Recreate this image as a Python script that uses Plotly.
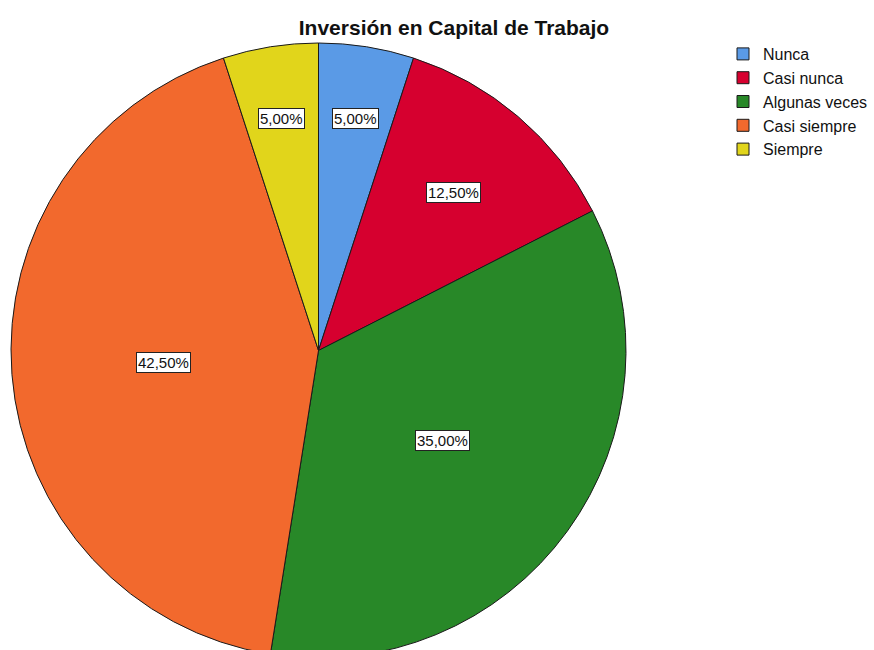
import math
import plotly.graph_objects as go

# Survey responses: share of each answer (percent)
categories = ["Nunca", "Casi nunca", "Algunas veces", "Casi siempre", "Siempre"]
percentages = [5.0, 12.5, 35.0, 42.5, 5.0]
slice_colors = ["#5A9AE6", "#D6002F", "#288828", "#F2692D", "#E1D51B"]
# radial position (fraction of radius) for each percentage label
label_radius = [0.765, 0.675, 0.50, 0.505, 0.765]

W, H = 874, 665
M_T, M_B = 43, 7
plot_h = H - M_T - M_B
r_px = plot_h / 2
cx_px = 318.5
cy_px = M_T + r_px

dom_x0 = (cx_px - r_px) / W
dom_x1 = (cx_px + r_px) / W


def fmt(v):
    return f"{v:.2f}".replace(".", ",") + "%"


fig = go.Figure(
    go.Pie(
        labels=categories,
        values=percentages,
        sort=False,
        direction="clockwise",
        rotation=0,
        marker=dict(colors=slice_colors, line=dict(color="#1a1a1a", width=1)),
        textinfo="none",
        hoverinfo="label+percent",
        domain=dict(x=[dom_x0, dom_x1], y=[0, 1]),
    )
)

# percentage labels in boxes, placed along each slice's mid angle
total = sum(percentages)
annotations = []
cum = 0.0
for cat, v, f in zip(categories, percentages, label_radius):
    mid = (cum + v / 2) / total * 2 * math.pi
    cum += v
    px = cx_px + f * r_px * math.sin(mid)
    py = cy_px - f * r_px * math.cos(mid)
    annotations.append(
        dict(
            x=px / W,
            y=(H - M_B - py) / plot_h,
            xref="paper",
            yref="paper",
            xanchor="center",
            yanchor="middle",
            text=fmt(v),
            showarrow=False,
            font=dict(family="Liberation Sans, Arial", size=15, color="#111111"),
            bgcolor="white",
            bordercolor="#222222",
            borderwidth=1,
            borderpad=1,
        )
    )

fig.update_layout(
    width=W,
    height=H,
    margin=dict(l=0, r=0, t=M_T, b=M_B, autoexpand=False),
    paper_bgcolor="white",
    plot_bgcolor="white",
    font=dict(family="Liberation Sans, Arial", color="#111111"),
    title=dict(
        text="<b>Inversión en Capital de Trabajo</b>",
        x=454 / W,
        xanchor="center",
        y=1 - 28 / H,
        yanchor="middle",
        font=dict(size=21, color="#111111"),
    ),
    legend=dict(
        x=723 / W,
        xanchor="left",
        y=(H - M_B - 37) / plot_h,
        yanchor="top",
        font=dict(size=16, color="#111111"),
        bgcolor="rgba(0,0,0,0)",
        tracegroupgap=0,
        itemwidth=30,
    ),
    annotations=annotations,
)

fig.write_html("out.html")
